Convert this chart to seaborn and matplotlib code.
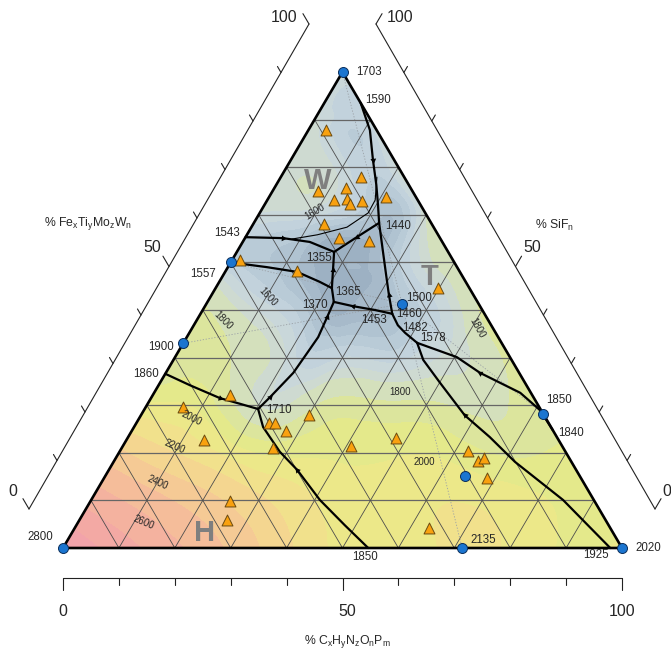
import numpy as np
import pandas as pd
import matplotlib
matplotlib.use("Agg")
import matplotlib.pyplot as plt
import matplotlib.tri as mtri
from matplotlib.colors import LinearSegmentedColormap, ListedColormap, BoundaryNorm
from matplotlib.patches import Polygon
import seaborn as sns

# ---------------------------------------------------------------------------
# Compositions are (r, t): r = % CxHyNzOnPm (right apex), t = % of the top apex.
# ---------------------------------------------------------------------------

# liquidus temperature samples (r, t, degC) used to shade the surface
grid_samples = [
    (0, 0, 2800), (10, 0, 2650), (20, 0, 2520), (30, 0, 2380), (40, 0, 2220),
    (50, 0, 2060), (60, 0, 2020), (71.4, 0, 2135), (80, 0, 2080), (90, 0, 1990), (100, 0, 2020),
    (0, 10, 2560), (10, 10, 2450), (20, 10, 2340), (30, 10, 2220), (40, 10, 2100),
    (50, 10, 2030), (60, 10, 2080), (70, 10, 2080), (80, 10, 2010), (90, 10, 1960),
    (0, 20, 2320), (10, 20, 2200), (20, 20, 2060), (30, 20, 1970), (40, 20, 1980),
    (50, 20, 1990), (60, 20, 1960), (70, 20, 1880), (80, 20, 1950),
    (0, 30, 2020), (10, 30, 1960), (30, 30, 1790), (40, 30, 1830), (50, 30, 1820),
    (60, 30, 1770), (70, 30, 1860),
    (0, 40, 1880), (10, 40, 1800), (20, 40, 1640), (30, 40, 1600), (40, 40, 1580),
    (50, 40, 1670), (60, 40, 1830),
    (0, 50, 1820), (10, 50, 1640), (20, 50, 1460), (40, 50, 1560), (50, 50, 1820),
    (0, 60, 1557), (20, 60, 1390), (30, 60, 1540), (40, 60, 1770),
    (0, 70, 1640), (10, 70, 1610), (20, 70, 1500), (30, 70, 1700),
    (0, 80, 1665), (10, 80, 1620), (20, 80, 1670),
    (0, 90, 1670), (10, 90, 1615),
    (0, 100, 1703),
]
edge_samples = [(0, 36.6, 1860), (0, 43, 1900), (0, 55, 1700), (0, 65.3, 1543),
                (6.5, 93.5, 1590), (71.8, 28.2, 1850), (75.2, 24.8, 1840)]
valley_samples = [
    (22.4, 68.3, 1440), (17.4, 62.2, 1355), (20.8, 54.6, 1365), (22.6, 51.7, 1370),
    (34.3, 49.2, 1453), (35.0, 51.3, 1500), (36.5, 46.8, 1482), (41.8, 43.1, 1578),
    (20.3, 29.2, 1710),
    (11.0, 87.8, 1580), (14.7, 81.5, 1560), (17.9, 76.3, 1530), (20.3, 72.1, 1490),
    (6.8, 65.1, 1520), (12.0, 64.3, 1450), (7.0, 59.0, 1510), (12.9, 58.0, 1450),
    (18.0, 55.9, 1390), (19.9, 65.3, 1400), (25.9, 62.6, 1450), (29.1, 57.4, 1460),
    (31.7, 53.2, 1460), (26.5, 50.8, 1400), (30.8, 50.0, 1430), (26.0, 58.0, 1400),
    (23.0, 48.5, 1420), (23.2, 41.0, 1560), (22.8, 36.8, 1620),
]

# experimental compositions (orange triangles)
sample_r = [3.2, 14.3, 8.1, 12.8, 11.9, 14.1, 15.2, 17.0, 20.9, 12.7, 16.8, 22.5,
            1.4, 12.8, 39.8, 13.8, 6.7, 13.9, 23.7, 24.8, 27.6, 27.1, 30.0, 40.8,
            48.0, 62.3, 65.1, 65.9, 68.5, 63.4, 24.9, 26.4]
sample_t = [87.8, 77.9, 75.0, 75.6, 73.1, 73.3, 72.3, 72.9, 73.7, 68.1, 65.1, 64.5,
            60.5, 58.2, 54.6, 32.1, 29.6, 22.7, 26.3, 26.3, 24.6, 21.0, 27.9, 21.4,
            23.1, 20.4, 18.3, 18.9, 14.7, 4.2, 9.9, 5.9]

# congruently melting compounds / end members (blue dots)
compound_r = [0, 0, 0, 0, 35.0, 71.8, 64.4, 71.4, 100]
compound_t = [100, 60, 43, 0, 51.3, 28.2, 15.1, 0, 0]
compound_T = [1703, 1557, 1900, 2800, 1500, 1850, None, 2135, 2020]

# univariant boundary curves (r, t), listed in the direction of falling temperature
path_a = [(6.5, 93.5), (11.0, 87.8), (14.7, 81.5), (17.9, 76.3), (20.3, 72.1), (22.4, 68.3)]
path_b = [(0, 65.3), (6.8, 65.1), (12.0, 64.3), (17.4, 62.2)]
path_c = [(22.4, 68.3), (19.9, 65.3), (17.4, 62.2)]
path_d = [(20.8, 54.6), (19.1, 58.4), (17.4, 62.2)]
path_e = [(0, 60), (7.0, 59.0), (12.9, 58.0), (18.0, 55.9), (20.8, 54.6)]
path_f = [(20.8, 54.6), (22.6, 51.7)]
path_g = [(34.3, 49.2), (30.8, 50.0), (26.5, 50.8), (22.6, 51.7)]
path_h = [(34.3, 49.2), (31.7, 53.2), (29.1, 57.4), (25.9, 62.6), (22.4, 68.3)]
path_i = [(41.8, 43.1), (38.6, 45.2), (36.5, 46.8), (34.3, 49.2)]
path_j = [(75.2, 24.8), (70.8, 29.0), (65.5, 32.6), (56.2, 36.8), (50.4, 40.1), (41.8, 43.1)]
path_k = [(97.9, 0), (84.4, 10.1), (71.8, 18.1), (64.7, 23.3), (57.9, 27.9), (50.1, 34.7),
          (44.7, 39.5), (41.8, 43.1)]
path_l = [(20.3, 29.2), (21.2, 31.7), (22.8, 36.8), (23.2, 41.0), (23.5, 44.3), (23.0, 48.5),
          (22.6, 51.7)]
path_m = [(0, 36.6), (5.6, 34.2), (12.3, 31.5), (16.5, 30.3), (20.3, 29.2)]
path_n = [(54.6, 0), (48.0, 4.8), (40.9, 10.1), (33.7, 16.4), (28.7, 20.2), (23.1, 25.4),
          (20.3, 29.2)]
isotherm_1600 = [(17.2, 77.9), (19.3, 73.1), (19.4, 70.4), (17.1, 67.4), (12.6, 65.8), (8.5, 64.9)]

# invariant / boundary temperatures written on the diagram
point_T = [1590, 1440, 1543, 1355, 1365, 1370, 1453, 1460, 1482, 1578, 1860, 1710, 1850, 1925, 1840]
point_r = [6.5, 22.4, 0, 17.4, 20.8, 22.6, 34.3, 34.3, 36.5, 41.8, 0, 20.3, 54.6, 97.9, 75.2]
point_t = [93.5, 68.3, 65.3, 62.2, 54.6, 51.7, 49.2, 49.2, 46.8, 43.1, 36.6, 29.2, 0, 0, 24.8]

# isotherm labels
iso_value = [1600, 1600, 1800, 1800, 1800, 2000, 2000, 2200, 2400, 2600]
iso_r = [9.8, 10.3, 4.7, 43.9, 51.0, 55.5, 9.4, 9.3, 10.1, 11.7]
iso_t = [70.6, 52.7, 47.9, 32.8, 46.2, 18.1, 27.3, 21.2, 13.7, 5.3]

# primary phase fields
field_names = ["W", "T", "H"]
field_r = [7.1, 37.2, 23.8]
field_t = [77.1, 56.9, 3.2]

# -------------------------------- styling ---------------------------------
sns.set_theme(style="white")
plt.rcParams["font.family"] = ["Liberation Sans", "DejaVu Sans"]
plt.rcParams["mathtext.fontset"] = "custom"
plt.rcParams["mathtext.rm"] = "Liberation Sans"
plt.rcParams["mathtext.default"] = "regular"

X0, Y0, SIDE, HEIGHT = 63.0, 548.0, 559.0, 476.0


def to_xy(r, t):
    r = np.asarray(r, dtype=float)
    t = np.asarray(t, dtype=float)
    return X0 + SIDE * (r + t / 2.0) / 100.0, Y0 - HEIGHT * t / 100.0


def path_xy(path):
    rr, tt = zip(*path)
    return to_xy(rr, tt)


fig = plt.figure(figsize=(6.71, 6.54), dpi=100)
ax = fig.add_axes([0, 0, 1, 1])

# ---------------- shaded liquidus surface ----------------
samples = grid_samples + edge_samples + valley_samples
sr, st, sT = (np.array(v, dtype=float) for v in zip(*samples))
sx, sy = to_xy(sr, st)
tri = mtri.Triangulation(sx, sy)
flat = mtri.TriAnalyzer(tri).get_flat_tri_mask(min_circle_ratio=0.02, rescale=False)
tri.set_mask(flat)
interp = mtri.CubicTriInterpolator(tri, sT, kind="min_E")
refiner = mtri.UniformTriRefiner(tri)
tri_f, T_f = refiner.refine_field(sT, interp, subdiv=4)
T_f = np.clip(T_f, 1301, 2899)

cmap_T = [1300, 1400, 1500, 1600, 1700, 1800, 1900, 2000, 2100, 2200, 2300, 2400, 2500,
          2600, 2700, 2800, 2900]
cmap_hex = ["#8fa5b8", "#a2b5c6", "#b5c7d4", "#c6d5df", "#d0dccd", "#d8e3ad", "#dfe78f",
            "#e8ea87", "#efe68a", "#f3dc8e", "#f5d092", "#f5c497", "#f5b89c", "#f4ada1",
            "#f3a6a7", "#f2a0ad", "#f09ab0"]
smooth = LinearSegmentedColormap.from_list(
    "liq", list(zip((np.array(cmap_T) - 1300) / 1600.0, cmap_hex)))
levels = np.r_[np.arange(1300, 1700, 50), np.arange(1700, 3000, 100)]
mids = 0.5 * (levels[:-1] + levels[1:])
band_cmap = ListedColormap([smooth((m - 1300) / 1600.0) for m in mids])
norm = BoundaryNorm(levels, band_cmap.N)

tri_patch = Polygon(np.column_stack(to_xy([0, 100, 0], [0, 0, 100])), closed=True,
                    transform=ax.transData, facecolor="none", edgecolor="none")
cs = ax.tricontourf(tri_f, T_f, levels=levels, cmap=band_cmap, norm=norm, zorder=1)
cs.set_clip_path(tri_patch)

# faint tie lines from the 1500 compound
for (r2, t2) in [(0, 100), (0, 60), (0, 43), (71.4, 0), (71.8, 28.2)]:
    lx, ly = to_xy([35.0, r2], [51.3, t2])
    ax.plot(lx, ly, color="#9aa0a6", lw=0.6, ls=(0, (1.5, 2)), zorder=2)

# ---------------- composition grid ----------------
for k in range(10, 100, 10):
    hx, hy = to_xy([0, 100 - k], [k, k])
    ax.plot(hx, hy, color="#666666", lw=0.9, zorder=3)
    ax.plot(*to_xy([k, k], [0, 100 - k]), color="#4d4d4d", lw=0.6, zorder=3)
    ax.plot(*to_xy([k, 0], [0, k]), color="#4d4d4d", lw=0.6, zorder=3)

# ---------------- boundary curves ----------------
paths = {"a": path_a, "b": path_b, "c": path_c, "d": path_d, "e": path_e, "f": path_f,
         "g": path_g, "h": path_h, "i": path_i, "j": path_j, "k": path_k, "l": path_l,
         "m": path_m, "n": path_n}
for p in paths.values():
    px, py = path_xy(p)
    ax.plot(px, py, color="black", lw=1.6, solid_capstyle="round", zorder=5)
ix, iy = path_xy(isotherm_1600)
ax.plot(ix, iy, color="black", lw=0.8, zorder=5)

arrow_marks = [("a", 2), ("b", 1), ("c", 1), ("d", 1), ("g", 2), ("h", 1), ("j", 3),
               ("k", 4), ("l", 5), ("l", 1), ("m", 2), ("n", 3)]
for key, idx in arrow_marks:
    px, py = path_xy(paths[key])
    dx = px[idx + 1] - px[idx - 1]
    dy = py[idx + 1] - py[idx - 1]
    ang = np.degrees(np.arctan2(-dy, dx)) - 90.0
    ax.plot(px[idx], py[idx], marker=(3, 0, ang), ms=4.8, color="black", mew=0, zorder=6)

# triangle frame
fx, fy = to_xy([0, 100, 0, 0], [0, 0, 100, 0])
ax.plot(fx, fy, color="black", lw=1.9, solid_joinstyle="miter", zorder=7)

# ---------------- markers ----------------
sx_, sy_ = to_xy(sample_r, sample_t)
samples_df = pd.DataFrame({"x": sx_, "y": sy_})
sns.scatterplot(data=samples_df, x="x", y="y", marker="^", s=62, color="#f9a10f",
                edgecolor="#6b4a10", linewidth=0.7, zorder=8, ax=ax, legend=False)
cx_, cy_ = to_xy(compound_r, compound_t)
comp_df = pd.DataFrame({"x": cx_, "y": cy_})
sns.scatterplot(data=comp_df, x="x", y="y", marker="o", s=52, color="#1b75d0",
                edgecolor="#0c2f5a", linewidth=0.7, zorder=9, ax=ax, legend=False)

# ---------------- temperature labels ----------------
lab_fs = 8.3
comp_offsets = [(14, 0, "left"), (-15, -12, "right"), (-9, -4, "right"), (-10, 11, "right"),
                (4, 6, "left"), (3, 14, "left"), None, (8, 8, "left"), (13, 0, "left")]
for T, x, y, off in zip(compound_T, cx_, cy_, comp_offsets):
    if T is None:
        continue
    ax.annotate(str(T), (x, y), xytext=off[:2], textcoords="offset pixels", ha=off[2],
                va="center", fontsize=lab_fs, zorder=10)

point_offsets = [(5, 3, "left"), (6, -3, "left"), (-6, 4, "right"), (-2, -6, "right"),
                 (3, -4, "left"), (-6, -3, "right"), (-5, -6, "right"), (4, 0, "left"),
                 (4, -3, "left"), (3, 5, "left"), (-6, 0, "right"), (8, -1, "left"),
                 (-3, -9, "center"), (-14, -7, "center"), (5, -3, "left")]
px_, py_ = to_xy(point_r, point_t)
for T, x, y, off in zip(point_T, px_, py_, point_offsets):
    ax.annotate(str(T), (x, y), xytext=off[:2], textcoords="offset pixels", ha=off[2],
                va="center", fontsize=lab_fs, zorder=10)

iso_rot = [32, -47, -45, 0, -61, 0, -27, -24, -24, -23]
qx, qy = to_xy(iso_r, iso_t)
for v, x, y, rot in zip(iso_value, qx, qy, iso_rot):
    ax.text(x, y, str(v), fontsize=7.0, rotation=rot, ha="center", va="center",
            rotation_mode="anchor", zorder=10)

gx, gy = to_xy(field_r, field_t)
for name, x, y in zip(field_names, gx, gy):
    ax.text(x, y, name, fontsize=21, fontweight="bold", color="#7f7f7f",
            ha="center", va="center", zorder=10)

# ---------------- outer scales ----------------
ticks = np.arange(0, 101, 10)
scale_specs = [
    # start (0 %), end (100 %), tick direction
    ((29.0, 509.0), (309.0, 24.0), (-0.505, -0.862)),
    ((655.0, 509.0), (376.0, 24.0), (0.505, -0.862)),
    ((63.0, 578.0), (622.0, 578.0), (0.0, 1.0)),
]
for (p0, p1, tdir) in scale_specs:
    p0 = np.array(p0); p1 = np.array(p1); tdir = np.array(tdir)
    ax.plot([p0[0], p1[0]], [p0[1], p1[1]], color="#222222", lw=0.8, zorder=3)
    for v in ticks:
        base = p0 + (p1 - p0) * v / 100.0
        ln = 12.0 if v in (0, 50, 100) else 7.0
        tip = base + tdir * ln
        ax.plot([base[0], tip[0]], [base[1], tip[1]], color="#222222", lw=0.8, zorder=3)

scale_numbers = [("0", 13, 492), ("50", 152, 248), ("100", 284, 17),
                 ("100", 400, 17), ("50", 532, 248), ("0", 667, 492),
                 ("0", 63, 611), ("50", 347, 611), ("100", 622, 611)]
for s, x, y in scale_numbers:
    ax.text(x, y, s, fontsize=11.5, ha="center", va="center", zorder=10)

ax.text(88, 224, r"% Fe$_x$Ti$_y$Mo$_z$W$_n$", fontsize=8.8, ha="center", va="center")
ax.text(555, 225, r"% SiF$_n$", fontsize=8.8, ha="center", va="center")
ax.text(347, 642, r"% C$_x$H$_y$N$_z$O$_n$P$_m$", fontsize=8.8, ha="center", va="center")

ax.set_xlim(0, 671)
ax.set_ylim(654, 0)
ax.axis("off")
fig.savefig("out.png", dpi=100)
